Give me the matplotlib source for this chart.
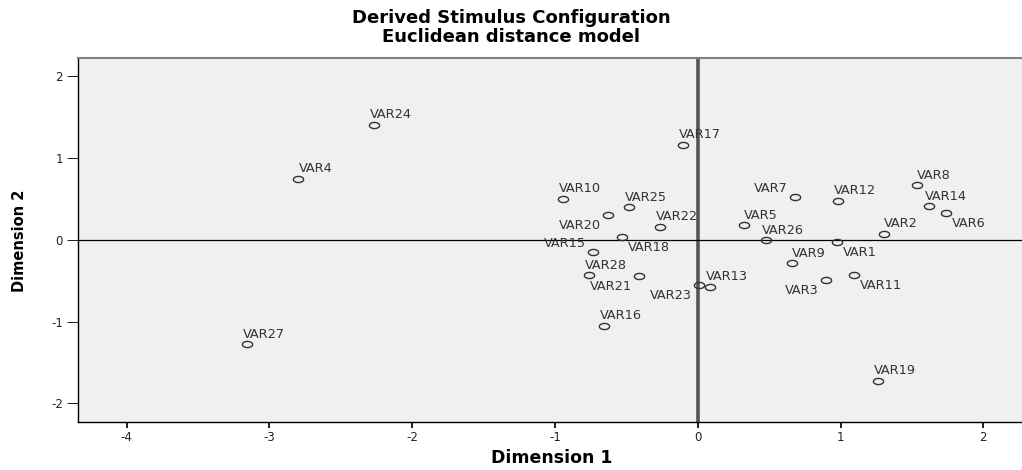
import numpy as np
import matplotlib
matplotlib.use("Agg")
import matplotlib.pyplot as plt
from matplotlib import font_manager

# coordinates (Dimension 1, Dimension 2)
labels = ["VAR1", "VAR2", "VAR3", "VAR4", "VAR5", "VAR6", "VAR7", "VAR8", "VAR9", "VAR10",
          "VAR11", "VAR12", "VAR13", "VAR14", "VAR15", "VAR16", "VAR17", "VAR18", "VAR19", "VAR20",
          "VAR21", "VAR22", "VAR23", "VAR24", "VAR25", "VAR26", "VAR27", "VAR28"]
dim1 = [0.977, 1.302, 0.898, -2.798, 0.324, 1.736, 0.679, 1.533, 0.660, -0.946,
        1.096, 0.984, 0.085, 1.621, -0.736, -0.655, -0.106, -0.531, 1.264, -0.631,
        -0.410, -0.263, 0.008, -2.268, -0.484, 0.476, -3.160, -0.764]
dim2 = [-0.028, 0.073, -0.493, 0.742, 0.176, 0.330, 0.526, 0.665, -0.289, 0.498,
        -0.428, 0.473, -0.575, 0.408, -0.150, -1.055, 1.158, 0.033, -1.724, 0.302,
        -0.440, 0.159, -0.554, 1.402, 0.396, -0.007, -1.279, -0.435]

# where each label sits relative to its point
where = ["br", "up", "bl", "up", "up", "br", "al", "up", "up", "up",
         "br", "up", "up", "up", "al", "up", "up", "br", "up", "bl",
         "bl", "up", "bl", "up", "up", "up", "up", "up"]

x_ticks = [-4, -3, -2, -1, 0, 1, 2]
y_ticks = [-2, -1, 0, 1, 2]

PX = 0.72  # points per pixel at dpi 100

# offsets in pixels (dx, dy screen-down to cap centre), alignment
PLACEMENT = {
    "up": (17, -11.3, "center"),
    "br": (6, 9.7, "left"),
    "bl": (-7, 9.7, "right"),
    "al": (-7, -9.5, "right"),
}

t = np.linspace(0, 2 * np.pi, 40)
ELLIPSE = list(zip(np.cos(t), 0.6 * np.sin(t)))


def ylabel_family():
    names = {f.name for f in font_manager.fontManager.ttflist}
    if "Liberation Sans Narrow" in names:
        return ["Liberation Sans Narrow", "DejaVu Sans"]
    return ["DejaVu Sans"]


def main():
    plt.rcParams["font.family"] = ["DejaVu Sans"]
    plt.rcParams["axes.unicode_minus"] = False
    fig = plt.figure(figsize=(10.22, 4.70), dpi=100)
    ax = fig.add_axes([78 / 1022, 1 - 422.3 / 470, 1 - 78 / 1022, (422.3 - 58) / 470])
    ax.set_facecolor("#f0f0f0")

    ax.set_xlim(-4.341, 2.271)
    ax.set_ylim(-2.23, 2.221)

    ax.axvline(0, color="#555555", lw=2.6, zorder=1)
    ax.axhline(0, color="black", lw=0.9, zorder=1)

    ax.plot(dim1, dim2, linestyle="none", marker=ELLIPSE, markersize=7.4,
            markerfacecolor="none", markeredgecolor="#333333", markeredgewidth=1.0, zorder=3)

    for name, x, y, pos in zip(labels, dim1, dim2, where):
        dx, dy, ha = PLACEMENT[pos]
        ax.annotate(name, (x, y), xytext=(dx * PX, -(dy + 4.5) * PX), textcoords="offset points",
                    ha=ha, va="baseline", fontsize=9.3, color="#333333", zorder=4)

    ax.set_xticks(x_ticks)
    ax.set_yticks(y_ticks)
    ax.tick_params(axis="x", length=6 * PX, width=2 * PX, pad=2, labelsize=8.5, colors="#222222")
    ax.tick_params(axis="y", length=11.5 * PX, width=1 * PX, pad=2.5, labelsize=8.5, colors="#222222")

    for side in ["left", "bottom"]:
        ax.spines[side].set_color("black")
        ax.spines[side].set_linewidth(1.0)
    ax.spines["top"].set_color("#808080")
    ax.spines["top"].set_linewidth(1.5)
    ax.spines["right"].set_visible(False)

    fig.text(0.5, 1 - 22.7 / 470, "Derived Stimulus Configuration", ha="center", va="baseline",
             fontsize=13, fontweight="bold")
    fig.text(0.5, 1 - 41.5 / 470, "Euclidean distance model", ha="center", va="baseline",
             fontsize=13, fontweight="bold")
    fig.text(552 / 1022, 1 - 463 / 470, "Dimension 1", ha="center", va="baseline",
             fontsize=12.5, fontweight="bold")
    fig.text(20 / 1022, 1 - 241 / 470, "Dimension 2", ha="center", va="center", rotation=90,
             fontsize=10.5, fontweight="bold", family=ylabel_family())

    fig.savefig("out.png", dpi=100)
    plt.close(fig)


if __name__ == "__main__":
    main()
